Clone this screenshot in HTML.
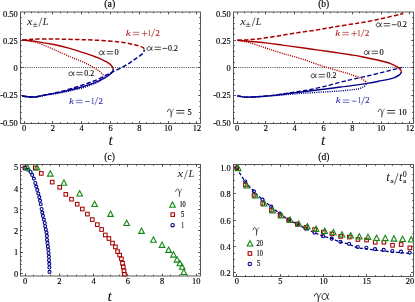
<!DOCTYPE html>
<html><head><meta charset="utf-8"><style>
html,body{margin:0;padding:0;background:#fff;}
svg{display:block;will-change:transform}
text{font-family:"Liberation Serif",serif;fill:#000}
.tk{font-size:8.4px;stroke:#000;stroke-width:0.15px}
.it{font-style:italic}
</style></head><body>
<svg width="415" height="302" viewBox="0 0 415 302">
<rect width="415" height="302" fill="#fff"/>
<rect x="20.50" y="12.00" width="180.00" height="111.50" fill="none" stroke="#484848" stroke-width="0.9"/>
<path d="M24.50,123.50v-2.40 M24.50,12.00v2.40 M31.50,123.50v-1.30 M31.50,12.00v1.30 M38.50,123.50v-1.30 M38.50,12.00v1.30 M45.50,123.50v-1.30 M45.50,12.00v1.30 M52.50,123.50v-2.40 M52.50,12.00v2.40 M60.50,123.50v-1.30 M60.50,12.00v1.30 M67.50,123.50v-1.30 M67.50,12.00v1.30 M74.50,123.50v-1.30 M74.50,12.00v1.30 M81.50,123.50v-2.40 M81.50,12.00v2.40 M88.50,123.50v-1.30 M88.50,12.00v1.30 M96.50,123.50v-1.30 M96.50,12.00v1.30 M103.50,123.50v-1.30 M103.50,12.00v1.30 M110.50,123.50v-2.40 M110.50,12.00v2.40 M117.50,123.50v-1.30 M117.50,12.00v1.30 M124.50,123.50v-1.30 M124.50,12.00v1.30 M132.50,123.50v-1.30 M132.50,12.00v1.30 M139.50,123.50v-2.40 M139.50,12.00v2.40 M146.50,123.50v-1.30 M146.50,12.00v1.30 M153.50,123.50v-1.30 M153.50,12.00v1.30 M160.50,123.50v-1.30 M160.50,12.00v1.30 M168.50,123.50v-2.40 M168.50,12.00v2.40 M175.50,123.50v-1.30 M175.50,12.00v1.30 M182.50,123.50v-1.30 M182.50,12.00v1.30 M189.50,123.50v-1.30 M189.50,12.00v1.30 M196.50,123.50v-2.40 M196.50,12.00v2.40 M20.50,118.50h1.30 M200.50,118.50h-1.30 M20.50,112.50h1.30 M200.50,112.50h-1.30 M20.50,106.50h1.30 M200.50,106.50h-1.30 M20.50,101.50h1.30 M200.50,101.50h-1.30 M20.50,95.50h2.40 M200.50,95.50h-2.40 M20.50,90.50h1.30 M200.50,90.50h-1.30 M20.50,84.50h1.30 M200.50,84.50h-1.30 M20.50,79.50h1.30 M200.50,79.50h-1.30 M20.50,73.50h1.30 M200.50,73.50h-1.30 M20.50,67.50h2.40 M200.50,67.50h-2.40 M20.50,62.50h1.30 M200.50,62.50h-1.30 M20.50,56.50h1.30 M200.50,56.50h-1.30 M20.50,51.50h1.30 M200.50,51.50h-1.30 M20.50,45.50h1.30 M200.50,45.50h-1.30 M20.50,40.50h2.40 M200.50,40.50h-2.40 M20.50,34.50h1.30 M200.50,34.50h-1.30 M20.50,28.50h1.30 M200.50,28.50h-1.30 M20.50,23.50h1.30 M200.50,23.50h-1.30 M20.50,17.50h1.30 M200.50,17.50h-1.30 " stroke="#3a3a3a" stroke-width="0.85" fill="none"/>
<text x="24.02" y="131.10" text-anchor="middle" class="tk">0</text>
<text x="52.84" y="131.10" text-anchor="middle" class="tk">2</text>
<text x="81.65" y="131.10" text-anchor="middle" class="tk">4</text>
<text x="110.47" y="131.10" text-anchor="middle" class="tk">6</text>
<text x="139.28" y="131.10" text-anchor="middle" class="tk">8</text>
<text x="168.10" y="131.10" text-anchor="middle" class="tk">10</text>
<text x="196.92" y="131.10" text-anchor="middle" class="tk">12</text>
<text x="17.60" y="17.15" text-anchor="end" class="tk">0.50</text>
<text x="17.60" y="43.72" text-anchor="end" class="tk">0.25</text>
<text x="17.60" y="71.10" text-anchor="end" class="tk">0</text>
<text x="17.60" y="98.47" text-anchor="end" class="tk">-0.25</text>
<text x="17.60" y="125.85" text-anchor="end" class="tk">-0.50</text>
<rect x="233.50" y="12.00" width="180.00" height="111.50" fill="none" stroke="#484848" stroke-width="0.9"/>
<path d="M237.50,123.50v-2.40 M237.50,12.00v2.40 M244.50,123.50v-1.30 M244.50,12.00v1.30 M251.50,123.50v-1.30 M251.50,12.00v1.30 M258.50,123.50v-1.30 M258.50,12.00v1.30 M265.50,123.50v-2.40 M265.50,12.00v2.40 M273.50,123.50v-1.30 M273.50,12.00v1.30 M280.50,123.50v-1.30 M280.50,12.00v1.30 M287.50,123.50v-1.30 M287.50,12.00v1.30 M294.50,123.50v-2.40 M294.50,12.00v2.40 M301.50,123.50v-1.30 M301.50,12.00v1.30 M309.50,123.50v-1.30 M309.50,12.00v1.30 M316.50,123.50v-1.30 M316.50,12.00v1.30 M323.50,123.50v-2.40 M323.50,12.00v2.40 M330.50,123.50v-1.30 M330.50,12.00v1.30 M337.50,123.50v-1.30 M337.50,12.00v1.30 M345.50,123.50v-1.30 M345.50,12.00v1.30 M352.50,123.50v-2.40 M352.50,12.00v2.40 M359.50,123.50v-1.30 M359.50,12.00v1.30 M366.50,123.50v-1.30 M366.50,12.00v1.30 M373.50,123.50v-1.30 M373.50,12.00v1.30 M381.50,123.50v-2.40 M381.50,12.00v2.40 M388.50,123.50v-1.30 M388.50,12.00v1.30 M395.50,123.50v-1.30 M395.50,12.00v1.30 M402.50,123.50v-1.30 M402.50,12.00v1.30 M409.50,123.50v-2.40 M409.50,12.00v2.40 M233.50,118.50h1.30 M413.50,118.50h-1.30 M233.50,112.50h1.30 M413.50,112.50h-1.30 M233.50,106.50h1.30 M413.50,106.50h-1.30 M233.50,101.50h1.30 M413.50,101.50h-1.30 M233.50,95.50h2.40 M413.50,95.50h-2.40 M233.50,90.50h1.30 M413.50,90.50h-1.30 M233.50,84.50h1.30 M413.50,84.50h-1.30 M233.50,79.50h1.30 M413.50,79.50h-1.30 M233.50,73.50h1.30 M413.50,73.50h-1.30 M233.50,67.50h2.40 M413.50,67.50h-2.40 M233.50,62.50h1.30 M413.50,62.50h-1.30 M233.50,56.50h1.30 M413.50,56.50h-1.30 M233.50,51.50h1.30 M413.50,51.50h-1.30 M233.50,45.50h1.30 M413.50,45.50h-1.30 M233.50,40.50h2.40 M413.50,40.50h-2.40 M233.50,34.50h1.30 M413.50,34.50h-1.30 M233.50,28.50h1.30 M413.50,28.50h-1.30 M233.50,23.50h1.30 M413.50,23.50h-1.30 M233.50,17.50h1.30 M413.50,17.50h-1.30 " stroke="#3a3a3a" stroke-width="0.85" fill="none"/>
<text x="237.02" y="131.10" text-anchor="middle" class="tk">0</text>
<text x="265.84" y="131.10" text-anchor="middle" class="tk">2</text>
<text x="294.65" y="131.10" text-anchor="middle" class="tk">4</text>
<text x="323.47" y="131.10" text-anchor="middle" class="tk">6</text>
<text x="352.28" y="131.10" text-anchor="middle" class="tk">8</text>
<text x="381.10" y="131.10" text-anchor="middle" class="tk">10</text>
<text x="409.92" y="131.10" text-anchor="middle" class="tk">12</text>
<text x="230.60" y="17.15" text-anchor="end" class="tk">0.50</text>
<text x="230.60" y="43.72" text-anchor="end" class="tk">0.25</text>
<text x="230.60" y="71.10" text-anchor="end" class="tk">0</text>
<text x="230.60" y="98.47" text-anchor="end" class="tk">-0.25</text>
<text x="230.60" y="125.85" text-anchor="end" class="tk">-0.50</text>
<path d="M21,67.5H200 M234,67.5H413" stroke="#222" stroke-width="0.9" stroke-dasharray="0.9,1.24" fill="none"/>
<path d="M22.30,96.00 C23.67,96.18 27.88,96.98 30.50,97.10 C33.12,97.22 35.58,96.98 38.00,96.70 C40.42,96.42 41.00,96.08 45.00,95.40 C49.00,94.72 56.17,93.73 62.00,92.60 C67.83,91.47 75.60,89.72 80.00,88.60 C84.40,87.48 85.73,86.83 88.40,85.90 C91.07,84.97 93.97,83.93 96.00,83.00 C98.03,82.07 99.23,81.42 100.60,80.30 C101.97,79.18 103.60,76.97 104.20,76.30" stroke="#00008b" stroke-width="1.35" fill="none" stroke-dasharray="1.1,1.1"/>
<path d="M22.30,96.00 C23.67,96.15 27.88,96.83 30.50,96.90 C33.12,96.97 35.58,96.73 38.00,96.40 C40.42,96.07 41.00,95.75 45.00,94.90 C49.00,94.05 56.17,92.82 62.00,91.30 C67.83,89.78 75.60,87.18 80.00,85.80 C84.40,84.42 85.58,84.00 88.40,83.00 C91.22,82.00 93.87,81.13 96.90,79.80 C99.93,78.47 103.88,76.35 106.60,75.00 C109.32,73.65 110.33,73.12 113.20,71.70 C116.07,70.28 120.48,68.37 123.80,66.50 C127.12,64.63 130.02,62.60 133.10,60.50 C136.18,58.40 140.42,55.72 142.30,53.90 C144.18,52.08 144.05,50.32 144.40,49.60" stroke="#00008b" stroke-width="1.50" fill="none" stroke-dasharray="4.4,2.2"/>
<path d="M22.30,96.00 C23.67,96.17 27.88,96.92 30.50,97.00 C33.12,97.08 35.58,96.82 38.00,96.50 C40.42,96.18 41.00,95.87 45.00,95.10 C49.00,94.33 56.33,93.12 62.00,91.90 C67.67,90.68 74.60,88.97 79.00,87.80 C83.40,86.63 85.40,85.92 88.40,84.90 C91.40,83.88 94.18,82.92 97.00,81.70 C99.82,80.48 103.25,78.72 105.30,77.60 C107.35,76.48 108.08,75.98 109.30,75.00 C110.52,74.02 111.95,72.77 112.60,71.70 C113.25,70.63 113.10,69.12 113.20,68.60" stroke="#00008b" stroke-width="1.40" fill="none"/>
<path d="M22.30,40.00 C24.73,40.43 31.67,41.03 36.90,42.60 C42.13,44.17 48.08,47.00 53.70,49.40 C59.32,51.80 66.22,55.13 70.60,57.00 C74.98,58.87 77.03,59.33 80.00,60.60 C82.97,61.87 85.58,63.10 88.40,64.60 C91.22,66.10 94.62,68.07 96.90,69.60 C99.18,71.13 100.88,72.68 102.10,73.80 C103.32,74.92 103.85,75.88 104.20,76.30" stroke="#a80000" stroke-width="1.35" fill="none" stroke-dasharray="1.1,1.1"/>
<path d="M22.30,40.00 C23.58,39.90 27.57,39.55 30.00,39.40 C32.43,39.25 33.57,39.16 36.90,39.10 C40.23,39.04 45.78,39.04 50.00,39.05 C54.22,39.06 57.20,39.06 62.20,39.15 C67.20,39.24 73.70,39.39 80.00,39.60 C86.30,39.81 93.37,40.00 100.00,40.40 C106.63,40.80 114.28,41.33 119.80,42.00 C125.32,42.67 129.57,43.63 133.10,44.40 C136.63,45.17 139.25,46.00 141.00,46.60 C142.75,47.20 143.03,47.50 143.60,48.00 C144.17,48.50 144.27,49.33 144.40,49.60" stroke="#a80000" stroke-width="1.50" fill="none" stroke-dasharray="4.4,2.2"/>
<path d="M22.30,40.00 C24.73,40.27 31.67,40.85 36.90,41.60 C42.13,42.35 48.08,43.33 53.70,44.50 C59.32,45.67 66.22,47.42 70.60,48.60 C74.98,49.78 76.77,50.57 80.00,51.60 C83.23,52.63 87.18,53.83 90.00,54.80 C92.82,55.77 95.23,56.77 96.90,57.40 C98.57,58.03 98.38,57.85 100.00,58.60 C101.62,59.35 104.73,60.80 106.60,61.90 C108.47,63.00 110.10,64.08 111.20,65.20 C112.30,66.32 112.87,68.03 113.20,68.60" stroke="#a80000" stroke-width="1.40" fill="none"/>
<path d="M237.40,95.90 C238.75,96.10 242.18,96.93 245.50,97.10 C248.82,97.27 252.52,97.13 257.30,96.90 C262.08,96.67 268.58,96.15 274.20,95.70 C279.82,95.25 285.55,94.65 291.00,94.20 C296.45,93.75 301.45,93.37 306.90,93.00 C312.35,92.63 318.08,92.35 323.70,92.00 C329.32,91.65 335.65,91.30 340.60,90.90 C345.55,90.50 350.17,90.02 353.40,89.60 C356.63,89.18 358.20,88.93 360.00,88.40 C361.80,87.87 363.10,87.18 364.20,86.40 C365.30,85.62 366.20,84.15 366.60,83.70" stroke="#00008b" stroke-width="1.35" fill="none" stroke-dasharray="1.1,1.1"/>
<path d="M237.40,95.90 C238.75,96.10 242.18,96.97 245.50,97.10 C248.82,97.23 252.52,97.02 257.30,96.70 C262.08,96.38 268.58,95.88 274.20,95.20 C279.82,94.52 285.55,93.43 291.00,92.60 C296.45,91.77 301.45,91.20 306.90,90.20 C312.35,89.20 318.08,87.95 323.70,86.60 C329.32,85.25 335.65,83.37 340.60,82.10 C345.55,80.83 348.45,80.13 353.40,79.00 C358.35,77.87 364.67,76.62 370.30,75.30 C375.93,73.98 381.87,72.42 387.20,71.10 C392.53,69.78 399.78,68.02 402.30,67.40" stroke="#00008b" stroke-width="1.30" fill="none" stroke-dasharray="4.4,2.2"/>
<path d="M237.40,95.90 C238.75,96.10 242.18,96.95 245.50,97.10 C248.82,97.25 252.52,97.08 257.30,96.80 C262.08,96.52 268.58,96.00 274.20,95.40 C279.82,94.80 285.55,93.90 291.00,93.20 C296.45,92.50 301.45,91.87 306.90,91.20 C312.35,90.53 318.08,89.90 323.70,89.20 C329.32,88.50 335.65,87.63 340.60,87.00 C345.55,86.37 349.02,86.00 353.40,85.40 C357.78,84.80 362.68,84.10 366.90,83.40 C371.12,82.70 374.20,82.13 378.70,81.20 C383.20,80.27 390.38,78.92 393.90,77.80 C397.42,76.68 398.53,75.50 399.80,74.50 C401.07,73.50 401.22,72.25 401.50,71.80" stroke="#00008b" stroke-width="1.40" fill="none"/>
<path d="M237.40,40.20 C239.32,40.58 244.18,41.20 248.90,42.50 C253.62,43.80 260.08,46.18 265.70,48.00 C271.32,49.82 276.55,51.57 282.60,53.40 C288.65,55.23 295.15,56.82 302.00,59.00 C308.85,61.18 317.27,64.43 323.70,66.50 C330.13,68.57 336.22,70.12 340.60,71.40 C344.98,72.68 346.77,73.12 350.00,74.20 C353.23,75.28 357.53,76.77 360.00,77.90 C362.47,79.03 363.70,80.03 364.80,81.00 C365.90,81.97 366.30,83.25 366.60,83.70" stroke="#a80000" stroke-width="1.35" fill="none" stroke-dasharray="1.1,1.1"/>
<path d="M237.40,40.20 C239.32,40.10 244.80,39.90 248.90,39.60 C253.00,39.30 257.40,38.97 262.00,38.40 C266.60,37.83 271.68,36.97 276.50,36.20 C281.32,35.43 286.08,34.57 290.90,33.80 C295.72,33.03 300.58,32.32 305.40,31.60 C310.22,30.88 315.08,30.27 319.80,29.50 C324.52,28.73 328.57,27.87 333.70,27.00 C338.83,26.13 345.90,25.03 350.60,24.30 C355.30,23.57 357.22,23.43 361.90,22.60 C366.58,21.77 373.08,20.50 378.70,19.30 C384.32,18.10 391.52,16.38 395.60,15.40 C399.68,14.42 401.93,13.73 403.20,13.40" stroke="#a80000" stroke-width="1.50" fill="none" stroke-dasharray="4.4,2.2"/>
<path d="M237.40,40.20 C242.12,40.65 258.17,42.08 265.70,42.90 C273.23,43.72 276.55,44.28 282.60,45.10 C288.65,45.92 296.28,47.00 302.00,47.80 C307.72,48.60 311.62,49.15 316.90,49.90 C322.18,50.65 328.08,51.48 333.70,52.30 C339.32,53.12 345.90,54.07 350.60,54.80 C355.30,55.53 357.22,55.78 361.90,56.70 C366.58,57.62 373.93,59.15 378.70,60.30 C383.47,61.45 387.40,62.50 390.50,63.60 C393.60,64.70 395.62,65.85 397.30,66.90 C398.98,67.95 399.90,69.08 400.60,69.90 C401.30,70.72 401.35,71.48 401.50,71.80" stroke="#a80000" stroke-width="1.40" fill="none"/>
<text x="104.30" y="7.10" font-size="9.60" textLength="11.00" lengthAdjust="spacingAndGlyphs" style="fill:#000;stroke:#000;stroke-width:0.15px">(a)</text>
<text x="318.20" y="7.10" font-size="9.60" textLength="11.00" lengthAdjust="spacingAndGlyphs" style="fill:#000;stroke:#000;stroke-width:0.15px">(b)</text>
<text x="104.30" y="159.80" font-size="9.60" textLength="10.50" lengthAdjust="spacingAndGlyphs" style="fill:#000;stroke:#000;stroke-width:0.15px">(c)</text>
<text x="318.30" y="159.80" font-size="9.60" textLength="11.00" lengthAdjust="spacingAndGlyphs" style="fill:#000;stroke:#000;stroke-width:0.15px">(d)</text>
<text x="108.60" y="144.50" font-size="15.00" textLength="4.40" lengthAdjust="spacingAndGlyphs" class="it" style="fill:#111;stroke:#111;stroke-width:0.00px">t</text>
<text x="320.90" y="144.60" font-size="15.00" textLength="4.40" lengthAdjust="spacingAndGlyphs" class="it" style="fill:#111;stroke:#111;stroke-width:0.00px">t</text>
<text x="107.40" y="301.40" font-size="15.00" textLength="4.40" lengthAdjust="spacingAndGlyphs" class="it" style="fill:#111;stroke:#111;stroke-width:0.00px">t</text>
<path d="M314.30,296.05 C314.63,294.33 315.49,293.56 316.41,293.56 C317.73,293.56 318.26,295.88 318.39,298.63 L318.06,301.90" stroke="#111" stroke-width="0.90" fill="none" stroke-linecap="round" stroke-linejoin="round"/>
<path d="M318.39,298.80 C318.92,296.91 319.91,294.68 320.77,293.30" stroke="#111" stroke-width="0.54" fill="none" stroke-linecap="round"/>
<path d="M328.51,293.74 C327.95,296.25 326.20,299.60 324.10,299.60 C322.70,299.60 322.00,298.38 322.00,297.04 C322.00,295.02 323.26,293.50 324.80,293.50 C326.55,293.50 327.04,295.94 327.46,298.07 C327.74,299.42 328.30,299.78 329.00,298.99" stroke="#111" stroke-width="0.85" fill="none" stroke-linecap="round" stroke-linejoin="round"/>
<text x="27.10" y="24.70" font-size="10.50" textLength="5.50" lengthAdjust="spacingAndGlyphs" class="it" style="fill:#1a1a1a;stroke:#1a1a1a;stroke-width:0.00px">x</text>
<text x="32.40" y="26.50" font-size="8.20" textLength="5.20" lengthAdjust="spacingAndGlyphs" style="fill:#1a1a1a;stroke:#1a1a1a;stroke-width:0.00px">±</text>
<path d="M41.90,17.60L38.90,26.60" stroke="#1a1a1a" stroke-width="0.60" fill="none"/>
<text x="42.70" y="24.70" font-size="10.00" textLength="5.70" lengthAdjust="spacingAndGlyphs" class="it" style="fill:#1a1a1a;stroke:#1a1a1a;stroke-width:0.00px">L</text>
<text x="240.20" y="24.70" font-size="10.50" textLength="5.50" lengthAdjust="spacingAndGlyphs" class="it" style="fill:#1a1a1a;stroke:#1a1a1a;stroke-width:0.00px">x</text>
<text x="245.50" y="26.50" font-size="8.20" textLength="5.20" lengthAdjust="spacingAndGlyphs" style="fill:#1a1a1a;stroke:#1a1a1a;stroke-width:0.00px">±</text>
<path d="M255.00,17.60L252.00,26.60" stroke="#1a1a1a" stroke-width="0.60" fill="none"/>
<text x="255.80" y="24.70" font-size="10.00" textLength="5.70" lengthAdjust="spacingAndGlyphs" class="it" style="fill:#1a1a1a;stroke:#1a1a1a;stroke-width:0.00px">L</text>
<text x="125.80" y="35.60" font-size="9.00" textLength="5.00" lengthAdjust="spacingAndGlyphs" class="it" style="fill:#b02020;stroke:#b02020;stroke-width:0.05px">k</text>
<path d="M132.80,32.30H139.40 M132.80,34.70H139.40" stroke="#b02020" stroke-width="0.65" fill="none"/>
<path d="M141.80,33.50H147.40 M144.60,30.70V36.30" stroke="#b02020" stroke-width="0.65" fill="none"/>
<text x="147.80" y="35.60" font-size="8.00" textLength="3.40" lengthAdjust="spacingAndGlyphs" style="fill:#b02020;stroke:#b02020;stroke-width:0.10px">1</text>
<path d="M154.80,28.90L151.50,37.10" stroke="#b02020" stroke-width="0.65" fill="none"/>
<text x="155.40" y="35.60" font-size="8.00" textLength="4.30" lengthAdjust="spacingAndGlyphs" style="fill:#b02020;stroke:#b02020;stroke-width:0.10px">2</text>
<path d="M152.12,46.76 C151.69,48.36 150.34,50.50 148.72,50.50 C147.64,50.50 147.10,49.72 147.10,48.86 C147.10,47.58 148.07,46.60 149.26,46.60 C150.61,46.60 150.99,48.16 151.31,49.52 C151.53,50.38 151.96,50.62 152.50,50.11" stroke="#000" stroke-width="0.72" fill="none" stroke-linecap="round" stroke-linejoin="round"/>
<path d="M154.50,47.20H160.90 M154.50,49.60H160.90" stroke="#000" stroke-width="0.65" fill="none"/>
<path d="M162.50,48.40H167.30" stroke="#000" stroke-width="0.70" fill="none"/>
<text x="168.00" y="50.50" font-size="7.60" textLength="9.80" lengthAdjust="spacingAndGlyphs" style="fill:#000;stroke:#000;stroke-width:0.10px">0.2</text>
<path d="M104.22,51.06 C103.79,52.66 102.44,54.80 100.82,54.80 C99.74,54.80 99.20,54.02 99.20,53.16 C99.20,51.88 100.17,50.90 101.36,50.90 C102.71,50.90 103.09,52.46 103.41,53.82 C103.63,54.68 104.06,54.92 104.60,54.41" stroke="#000" stroke-width="0.72" fill="none" stroke-linecap="round" stroke-linejoin="round"/>
<path d="M106.60,51.50H113.00 M106.60,53.90H113.00" stroke="#000" stroke-width="0.65" fill="none"/>
<text x="114.60" y="54.80" font-size="7.60" textLength="4.20" lengthAdjust="spacingAndGlyphs" style="fill:#000;stroke:#000;stroke-width:0.10px">0</text>
<path d="M73.92,71.96 C73.49,73.55 72.14,75.70 70.52,75.70 C69.44,75.70 68.90,74.92 68.90,74.06 C68.90,72.77 69.87,71.80 71.06,71.80 C72.41,71.80 72.79,73.36 73.11,74.72 C73.33,75.58 73.76,75.82 74.30,75.31" stroke="#000" stroke-width="0.72" fill="none" stroke-linecap="round" stroke-linejoin="round"/>
<path d="M76.30,72.40H82.70 M76.30,74.80H82.70" stroke="#000" stroke-width="0.65" fill="none"/>
<text x="84.30" y="75.70" font-size="7.60" textLength="9.80" lengthAdjust="spacingAndGlyphs" style="fill:#000;stroke:#000;stroke-width:0.10px">0.2</text>
<text x="69.00" y="103.60" font-size="9.00" textLength="5.00" lengthAdjust="spacingAndGlyphs" class="it" style="fill:#2a2aa8;stroke:#2a2aa8;stroke-width:0.05px">k</text>
<path d="M76.00,100.30H82.60 M76.00,102.70H82.60" stroke="#2a2aa8" stroke-width="0.65" fill="none"/>
<path d="M85.00,101.50H89.80" stroke="#2a2aa8" stroke-width="0.70" fill="none"/>
<text x="91.00" y="103.60" font-size="8.00" textLength="3.40" lengthAdjust="spacingAndGlyphs" style="fill:#2a2aa8;stroke:#2a2aa8;stroke-width:0.10px">1</text>
<path d="M98.00,96.90L94.70,105.10" stroke="#2a2aa8" stroke-width="0.65" fill="none"/>
<text x="98.60" y="103.60" font-size="8.00" textLength="4.30" lengthAdjust="spacingAndGlyphs" style="fill:#2a2aa8;stroke:#2a2aa8;stroke-width:0.10px">2</text>
<path d="M167.50,111.56 C167.81,109.96 168.60,109.24 169.45,109.24 C170.67,109.24 171.16,111.40 171.28,113.96 L170.98,117.00" stroke="#111" stroke-width="0.75" fill="none" stroke-linecap="round" stroke-linejoin="round"/>
<path d="M171.28,114.12 C171.77,112.36 172.69,110.28 173.48,109.00" stroke="#111" stroke-width="0.45" fill="none" stroke-linecap="round"/>
<path d="M176.30,110.50H184.30 M176.30,113.10H184.30" stroke="#000" stroke-width="0.75" fill="none"/>
<text x="187.50" y="114.60" font-size="8.50" textLength="4.20" lengthAdjust="spacingAndGlyphs" style="fill:#000;stroke:#000;stroke-width:0.15px">5</text>
<text x="335.30" y="35.70" font-size="9.00" textLength="5.00" lengthAdjust="spacingAndGlyphs" class="it" style="fill:#b02020;stroke:#b02020;stroke-width:0.05px">k</text>
<path d="M342.30,32.40H348.90 M342.30,34.80H348.90" stroke="#b02020" stroke-width="0.65" fill="none"/>
<path d="M351.30,33.60H356.90 M354.10,30.80V36.40" stroke="#b02020" stroke-width="0.65" fill="none"/>
<text x="357.30" y="35.70" font-size="8.00" textLength="3.40" lengthAdjust="spacingAndGlyphs" style="fill:#b02020;stroke:#b02020;stroke-width:0.10px">1</text>
<path d="M364.30,29.00L361.00,37.20" stroke="#b02020" stroke-width="0.65" fill="none"/>
<text x="364.90" y="35.70" font-size="8.00" textLength="4.30" lengthAdjust="spacingAndGlyphs" style="fill:#b02020;stroke:#b02020;stroke-width:0.10px">2</text>
<path d="M381.32,23.06 C380.89,24.66 379.54,26.80 377.92,26.80 C376.84,26.80 376.30,26.02 376.30,25.16 C376.30,23.88 377.27,22.90 378.46,22.90 C379.81,22.90 380.19,24.46 380.51,25.83 C380.73,26.68 381.16,26.92 381.70,26.41" stroke="#000" stroke-width="0.72" fill="none" stroke-linecap="round" stroke-linejoin="round"/>
<path d="M383.70,23.50H390.10 M383.70,25.90H390.10" stroke="#000" stroke-width="0.65" fill="none"/>
<path d="M391.70,24.70H396.50" stroke="#000" stroke-width="0.70" fill="none"/>
<text x="397.20" y="26.80" font-size="7.60" textLength="9.80" lengthAdjust="spacingAndGlyphs" style="fill:#000;stroke:#000;stroke-width:0.10px">0.2</text>
<path d="M369.22,50.76 C368.79,52.36 367.44,54.50 365.82,54.50 C364.74,54.50 364.20,53.72 364.20,52.86 C364.20,51.58 365.17,50.60 366.36,50.60 C367.71,50.60 368.09,52.16 368.41,53.52 C368.63,54.38 369.06,54.62 369.60,54.11" stroke="#000" stroke-width="0.72" fill="none" stroke-linecap="round" stroke-linejoin="round"/>
<path d="M371.60,51.20H378.00 M371.60,53.60H378.00" stroke="#000" stroke-width="0.65" fill="none"/>
<text x="379.60" y="54.50" font-size="7.60" textLength="4.20" lengthAdjust="spacingAndGlyphs" style="fill:#000;stroke:#000;stroke-width:0.10px">0</text>
<path d="M316.12,74.06 C315.69,75.65 314.34,77.80 312.72,77.80 C311.64,77.80 311.10,77.02 311.10,76.16 C311.10,74.87 312.07,73.90 313.26,73.90 C314.61,73.90 314.99,75.46 315.31,76.82 C315.53,77.68 315.96,77.92 316.50,77.41" stroke="#000" stroke-width="0.72" fill="none" stroke-linecap="round" stroke-linejoin="round"/>
<path d="M318.50,74.50H324.90 M318.50,76.90H324.90" stroke="#000" stroke-width="0.65" fill="none"/>
<text x="326.50" y="77.80" font-size="7.60" textLength="9.80" lengthAdjust="spacingAndGlyphs" style="fill:#000;stroke:#000;stroke-width:0.10px">0.2</text>
<text x="335.70" y="103.30" font-size="9.00" textLength="5.00" lengthAdjust="spacingAndGlyphs" class="it" style="fill:#2a2aa8;stroke:#2a2aa8;stroke-width:0.05px">k</text>
<path d="M342.70,100.00H349.30 M342.70,102.40H349.30" stroke="#2a2aa8" stroke-width="0.65" fill="none"/>
<path d="M351.70,101.20H356.50" stroke="#2a2aa8" stroke-width="0.70" fill="none"/>
<text x="357.70" y="103.30" font-size="8.00" textLength="3.40" lengthAdjust="spacingAndGlyphs" style="fill:#2a2aa8;stroke:#2a2aa8;stroke-width:0.10px">1</text>
<path d="M364.70,96.60L361.40,104.80" stroke="#2a2aa8" stroke-width="0.65" fill="none"/>
<text x="365.30" y="103.30" font-size="8.00" textLength="4.30" lengthAdjust="spacingAndGlyphs" style="fill:#2a2aa8;stroke:#2a2aa8;stroke-width:0.10px">2</text>
<path d="M378.30,111.56 C378.61,109.96 379.40,109.24 380.25,109.24 C381.47,109.24 381.96,111.40 382.08,113.96 L381.78,117.00" stroke="#111" stroke-width="0.75" fill="none" stroke-linecap="round" stroke-linejoin="round"/>
<path d="M382.08,114.12 C382.57,112.36 383.49,110.28 384.28,109.00" stroke="#111" stroke-width="0.45" fill="none" stroke-linecap="round"/>
<path d="M387.10,110.50H395.10 M387.10,113.10H395.10" stroke="#000" stroke-width="0.75" fill="none"/>
<text x="398.30" y="114.60" font-size="8.50" textLength="8.20" lengthAdjust="spacingAndGlyphs" style="fill:#000;stroke:#000;stroke-width:0.15px">10</text>
<rect x="20.50" y="164.50" width="180.00" height="111.50" fill="none" stroke="#484848" stroke-width="0.9"/>
<path d="M25.50,276.00v-2.40 M25.50,164.50v2.40 M33.50,276.00v-1.30 M33.50,164.50v1.30 M42.50,276.00v-1.30 M42.50,164.50v1.30 M50.50,276.00v-1.30 M50.50,164.50v1.30 M59.50,276.00v-2.40 M59.50,164.50v2.40 M67.50,276.00v-1.30 M67.50,164.50v1.30 M76.50,276.00v-1.30 M76.50,164.50v1.30 M85.50,276.00v-1.30 M85.50,164.50v1.30 M93.50,276.00v-2.40 M93.50,164.50v2.40 M102.50,276.00v-1.30 M102.50,164.50v1.30 M110.50,276.00v-1.30 M110.50,164.50v1.30 M119.50,276.00v-1.30 M119.50,164.50v1.30 M127.50,276.00v-2.40 M127.50,164.50v2.40 M136.50,276.00v-1.30 M136.50,164.50v1.30 M144.50,276.00v-1.30 M144.50,164.50v1.30 M153.50,276.00v-1.30 M153.50,164.50v1.30 M162.50,276.00v-2.40 M162.50,164.50v2.40 M170.50,276.00v-1.30 M170.50,164.50v1.30 M179.50,276.00v-1.30 M179.50,164.50v1.30 M187.50,276.00v-1.30 M187.50,164.50v1.30 M196.50,276.00v-2.40 M196.50,164.50v2.40 M20.50,273.50h2.40 M200.50,273.50h-2.40 M20.50,269.50h1.30 M200.50,269.50h-1.30 M20.50,264.50h1.30 M200.50,264.50h-1.30 M20.50,260.50h1.30 M200.50,260.50h-1.30 M20.50,256.50h1.30 M200.50,256.50h-1.30 M20.50,252.50h2.40 M200.50,252.50h-2.40 M20.50,247.50h1.30 M200.50,247.50h-1.30 M20.50,243.50h1.30 M200.50,243.50h-1.30 M20.50,239.50h1.30 M200.50,239.50h-1.30 M20.50,235.50h1.30 M200.50,235.50h-1.30 M20.50,230.50h2.40 M200.50,230.50h-2.40 M20.50,226.50h1.30 M200.50,226.50h-1.30 M20.50,222.50h1.30 M200.50,222.50h-1.30 M20.50,218.50h1.30 M200.50,218.50h-1.30 M20.50,213.50h1.30 M200.50,213.50h-1.30 M20.50,209.50h2.40 M200.50,209.50h-2.40 M20.50,205.50h1.30 M200.50,205.50h-1.30 M20.50,201.50h1.30 M200.50,201.50h-1.30 M20.50,196.50h1.30 M200.50,196.50h-1.30 M20.50,192.50h1.30 M200.50,192.50h-1.30 M20.50,188.50h2.40 M200.50,188.50h-2.40 M20.50,184.50h1.30 M200.50,184.50h-1.30 M20.50,179.50h1.30 M200.50,179.50h-1.30 M20.50,175.50h1.30 M200.50,175.50h-1.30 M20.50,171.50h1.30 M200.50,171.50h-1.30 M20.50,167.50h2.40 M200.50,167.50h-2.40 " stroke="#3a3a3a" stroke-width="0.85" fill="none"/>
<text x="25.10" y="283.60" text-anchor="middle" class="tk">0</text>
<text x="59.34" y="283.60" text-anchor="middle" class="tk">2</text>
<text x="93.58" y="283.60" text-anchor="middle" class="tk">4</text>
<text x="127.82" y="283.60" text-anchor="middle" class="tk">6</text>
<text x="162.06" y="283.60" text-anchor="middle" class="tk">8</text>
<text x="196.30" y="283.60" text-anchor="middle" class="tk">10</text>
<text x="18.20" y="276.65" text-anchor="end" class="tk">0</text>
<text x="18.20" y="255.41" text-anchor="end" class="tk">1</text>
<text x="18.20" y="234.17" text-anchor="end" class="tk">2</text>
<text x="18.20" y="212.93" text-anchor="end" class="tk">3</text>
<text x="18.20" y="191.69" text-anchor="end" class="tk">4</text>
<text x="18.20" y="170.45" text-anchor="end" class="tk">5</text>
<clipPath id="cc"><rect x="20.3" y="164.4" width="180.2" height="112.4"/></clipPath><g clip-path="url(#cc)">
<rect x="23.10" y="166.10" width="3.60" height="3.60" fill="none" stroke="#a80000" stroke-width="1.05"/>
<rect x="33.50" y="166.20" width="3.60" height="3.60" fill="none" stroke="#a80000" stroke-width="1.05"/>
<rect x="39.50" y="171.60" width="3.60" height="3.60" fill="none" stroke="#a80000" stroke-width="1.05"/>
<rect x="50.40" y="180.30" width="3.60" height="3.60" fill="none" stroke="#a80000" stroke-width="1.05"/>
<rect x="57.90" y="185.50" width="3.60" height="3.60" fill="none" stroke="#a80000" stroke-width="1.05"/>
<rect x="64.00" y="192.60" width="3.60" height="3.60" fill="none" stroke="#a80000" stroke-width="1.05"/>
<rect x="69.70" y="197.40" width="3.60" height="3.60" fill="none" stroke="#a80000" stroke-width="1.05"/>
<rect x="75.40" y="202.40" width="3.60" height="3.60" fill="none" stroke="#a80000" stroke-width="1.05"/>
<rect x="80.50" y="207.20" width="3.60" height="3.60" fill="none" stroke="#a80000" stroke-width="1.05"/>
<rect x="85.60" y="212.30" width="3.60" height="3.60" fill="none" stroke="#a80000" stroke-width="1.05"/>
<rect x="90.50" y="217.80" width="3.60" height="3.60" fill="none" stroke="#a80000" stroke-width="1.05"/>
<rect x="95.50" y="222.80" width="3.60" height="3.60" fill="none" stroke="#a80000" stroke-width="1.05"/>
<rect x="99.80" y="227.70" width="3.60" height="3.60" fill="none" stroke="#a80000" stroke-width="1.05"/>
<rect x="103.50" y="233.20" width="3.60" height="3.60" fill="none" stroke="#a80000" stroke-width="1.05"/>
<rect x="107.10" y="236.70" width="3.60" height="3.60" fill="none" stroke="#a80000" stroke-width="1.05"/>
<rect x="110.70" y="241.30" width="3.60" height="3.60" fill="none" stroke="#a80000" stroke-width="1.05"/>
<rect x="113.60" y="245.10" width="3.60" height="3.60" fill="none" stroke="#a80000" stroke-width="1.05"/>
<rect x="115.80" y="249.80" width="3.60" height="3.60" fill="none" stroke="#a80000" stroke-width="1.05"/>
<rect x="117.90" y="253.30" width="3.60" height="3.60" fill="none" stroke="#a80000" stroke-width="1.05"/>
<rect x="119.60" y="257.00" width="3.60" height="3.60" fill="none" stroke="#a80000" stroke-width="1.05"/>
<rect x="120.70" y="261.50" width="3.60" height="3.60" fill="none" stroke="#a80000" stroke-width="1.05"/>
<rect x="121.50" y="265.10" width="3.60" height="3.60" fill="none" stroke="#a80000" stroke-width="1.05"/>
<rect x="122.20" y="269.10" width="3.60" height="3.60" fill="none" stroke="#a80000" stroke-width="1.05"/>
<rect x="122.60" y="272.50" width="3.60" height="3.60" fill="none" stroke="#a80000" stroke-width="1.05"/>
<circle cx="25.30" cy="168.00" r="1.50" fill="none" stroke="#00008b" stroke-width="1.1"/>
<circle cx="28.20" cy="169.70" r="1.50" fill="none" stroke="#00008b" stroke-width="1.1"/>
<circle cx="30.60" cy="172.00" r="1.50" fill="none" stroke="#00008b" stroke-width="1.1"/>
<circle cx="32.20" cy="174.90" r="1.50" fill="none" stroke="#00008b" stroke-width="1.1"/>
<circle cx="33.90" cy="178.60" r="1.50" fill="none" stroke="#00008b" stroke-width="1.1"/>
<circle cx="35.30" cy="183.00" r="1.50" fill="none" stroke="#00008b" stroke-width="1.1"/>
<circle cx="36.30" cy="186.60" r="1.50" fill="none" stroke="#00008b" stroke-width="1.1"/>
<circle cx="37.30" cy="189.90" r="1.50" fill="none" stroke="#00008b" stroke-width="1.1"/>
<circle cx="38.30" cy="193.50" r="1.50" fill="none" stroke="#00008b" stroke-width="1.1"/>
<circle cx="39.30" cy="197.10" r="1.50" fill="none" stroke="#00008b" stroke-width="1.1"/>
<circle cx="40.00" cy="200.60" r="1.50" fill="none" stroke="#00008b" stroke-width="1.1"/>
<circle cx="40.70" cy="204.20" r="1.50" fill="none" stroke="#00008b" stroke-width="1.1"/>
<circle cx="41.60" cy="209.00" r="1.50" fill="none" stroke="#00008b" stroke-width="1.1"/>
<circle cx="42.30" cy="212.60" r="1.50" fill="none" stroke="#00008b" stroke-width="1.1"/>
<circle cx="42.90" cy="215.90" r="1.50" fill="none" stroke="#00008b" stroke-width="1.1"/>
<circle cx="43.90" cy="219.60" r="1.50" fill="none" stroke="#00008b" stroke-width="1.1"/>
<circle cx="44.70" cy="223.00" r="1.50" fill="none" stroke="#00008b" stroke-width="1.1"/>
<circle cx="45.20" cy="226.30" r="1.50" fill="none" stroke="#00008b" stroke-width="1.1"/>
<circle cx="45.80" cy="229.50" r="1.50" fill="none" stroke="#00008b" stroke-width="1.1"/>
<circle cx="46.50" cy="232.50" r="1.50" fill="none" stroke="#00008b" stroke-width="1.1"/>
<circle cx="46.90" cy="235.90" r="1.50" fill="none" stroke="#00008b" stroke-width="1.1"/>
<circle cx="47.00" cy="239.70" r="1.50" fill="none" stroke="#00008b" stroke-width="1.1"/>
<circle cx="47.50" cy="242.90" r="1.50" fill="none" stroke="#00008b" stroke-width="1.1"/>
<circle cx="47.90" cy="246.40" r="1.50" fill="none" stroke="#00008b" stroke-width="1.1"/>
<circle cx="48.30" cy="249.70" r="1.50" fill="none" stroke="#00008b" stroke-width="1.1"/>
<circle cx="48.60" cy="253.30" r="1.50" fill="none" stroke="#00008b" stroke-width="1.1"/>
<circle cx="48.90" cy="256.80" r="1.50" fill="none" stroke="#00008b" stroke-width="1.1"/>
<circle cx="49.00" cy="260.30" r="1.50" fill="none" stroke="#00008b" stroke-width="1.1"/>
<circle cx="49.30" cy="263.90" r="1.50" fill="none" stroke="#00008b" stroke-width="1.1"/>
<circle cx="49.40" cy="267.50" r="1.50" fill="none" stroke="#00008b" stroke-width="1.1"/>
<circle cx="49.50" cy="271.90" r="1.50" fill="none" stroke="#00008b" stroke-width="1.1"/>
<path d="M27.50,164.56L30.30,169.88L24.70,169.88Z" fill="none" stroke="#118811" stroke-width="1.1"/>
<path d="M37.00,164.56L39.80,169.88L34.20,169.88Z" fill="none" stroke="#118811" stroke-width="1.1"/>
<path d="M50.30,170.76L53.10,176.08L47.50,176.08Z" fill="none" stroke="#118811" stroke-width="1.1"/>
<path d="M63.90,179.86L66.70,185.18L61.10,185.18Z" fill="none" stroke="#118811" stroke-width="1.1"/>
<path d="M79.70,190.66L82.50,195.98L76.90,195.98Z" fill="none" stroke="#118811" stroke-width="1.1"/>
<path d="M94.60,201.16L97.40,206.48L91.80,206.48Z" fill="none" stroke="#118811" stroke-width="1.1"/>
<path d="M110.50,211.06L113.30,216.38L107.70,216.38Z" fill="none" stroke="#118811" stroke-width="1.1"/>
<path d="M126.70,220.16L129.50,225.48L123.90,225.48Z" fill="none" stroke="#118811" stroke-width="1.1"/>
<path d="M141.50,228.06L144.30,233.38L138.70,233.38Z" fill="none" stroke="#118811" stroke-width="1.1"/>
<path d="M153.40,236.86L156.20,242.18L150.60,242.18Z" fill="none" stroke="#118811" stroke-width="1.1"/>
<path d="M162.00,242.06L164.80,247.38L159.20,247.38Z" fill="none" stroke="#118811" stroke-width="1.1"/>
<path d="M168.60,247.06L171.40,252.38L165.80,252.38Z" fill="none" stroke="#118811" stroke-width="1.1"/>
<path d="M173.50,251.76L176.30,257.08L170.70,257.08Z" fill="none" stroke="#118811" stroke-width="1.1"/>
<path d="M177.00,256.76L179.80,262.08L174.20,262.08Z" fill="none" stroke="#118811" stroke-width="1.1"/>
<path d="M179.90,260.46L182.70,265.78L177.10,265.78Z" fill="none" stroke="#118811" stroke-width="1.1"/>
<path d="M182.20,263.96L185.00,269.28L179.40,269.28Z" fill="none" stroke="#118811" stroke-width="1.1"/>
<path d="M183.80,269.16L186.60,274.48L181.00,274.48Z" fill="none" stroke="#118811" stroke-width="1.1"/>
</g>
<text x="177.40" y="177.40" font-size="10.50" textLength="5.60" lengthAdjust="spacingAndGlyphs" class="it" style="fill:#1a1a1a;stroke:#1a1a1a;stroke-width:0.00px">x</text>
<path d="M187.40,170.40L184.30,179.40" stroke="#1a1a1a" stroke-width="0.60" fill="none"/>
<text x="188.60" y="177.40" font-size="10.00" textLength="6.00" lengthAdjust="spacingAndGlyphs" class="it" style="fill:#1a1a1a;stroke:#1a1a1a;stroke-width:0.00px">L</text>
<path d="M175.70,191.33 C176.00,189.81 176.80,189.13 177.65,189.13 C178.87,189.13 179.36,191.18 179.48,193.61 L179.18,196.50" stroke="#111" stroke-width="0.75" fill="none" stroke-linecap="round" stroke-linejoin="round"/>
<path d="M179.48,193.76 C179.97,192.09 180.88,190.12 181.68,188.90" stroke="#111" stroke-width="0.45" fill="none" stroke-linecap="round"/>
<path d="M172.50,201.96L175.30,207.28L169.70,207.28Z" fill="none" stroke="#118811" stroke-width="1.1"/>
<text x="179.40" y="206.90" font-size="7.60" textLength="6.30" lengthAdjust="spacingAndGlyphs" style="fill:#000;stroke:#000;stroke-width:0.15px">10</text>
<rect x="170.90" y="212.80" width="3.60" height="3.60" fill="none" stroke="#a80000" stroke-width="1.05"/>
<text x="181.10" y="217.10" font-size="7.60" textLength="3.30" lengthAdjust="spacingAndGlyphs" style="fill:#000;stroke:#000;stroke-width:0.15px">5</text>
<circle cx="172.60" cy="225.20" r="1.70" fill="none" stroke="#00008b" stroke-width="1.1"/>
<text x="181.30" y="227.50" font-size="7.60" textLength="2.90" lengthAdjust="spacingAndGlyphs" style="fill:#000;stroke:#000;stroke-width:0.15px">1</text>
<rect x="233.50" y="164.50" width="180.00" height="111.95" fill="none" stroke="#484848" stroke-width="0.9"/>
<path d="M236.50,276.45v-2.40 M236.50,164.50v2.40 M245.50,276.45v-1.30 M245.50,164.50v1.30 M254.50,276.45v-1.30 M254.50,164.50v1.30 M262.50,276.45v-1.30 M262.50,164.50v1.30 M271.50,276.45v-1.30 M271.50,164.50v1.30 M280.50,276.45v-2.40 M280.50,164.50v2.40 M288.50,276.45v-1.30 M288.50,164.50v1.30 M297.50,276.45v-1.30 M297.50,164.50v1.30 M306.50,276.45v-1.30 M306.50,164.50v1.30 M314.50,276.45v-1.30 M314.50,164.50v1.30 M323.50,276.45v-2.40 M323.50,164.50v2.40 M332.50,276.45v-1.30 M332.50,164.50v1.30 M340.50,276.45v-1.30 M340.50,164.50v1.30 M349.50,276.45v-1.30 M349.50,164.50v1.30 M358.50,276.45v-1.30 M358.50,164.50v1.30 M366.50,276.45v-2.40 M366.50,164.50v2.40 M375.50,276.45v-1.30 M375.50,164.50v1.30 M384.50,276.45v-1.30 M384.50,164.50v1.30 M392.50,276.45v-1.30 M392.50,164.50v1.30 M401.50,276.45v-1.30 M401.50,164.50v1.30 M410.50,276.45v-2.40 M410.50,164.50v2.40 M233.50,272.50h2.40 M413.50,272.50h-2.40 M233.50,266.50h1.30 M413.50,266.50h-1.30 M233.50,259.50h1.30 M413.50,259.50h-1.30 M233.50,253.50h1.30 M413.50,253.50h-1.30 M233.50,246.50h2.40 M413.50,246.50h-2.40 M233.50,240.50h1.30 M413.50,240.50h-1.30 M233.50,233.50h1.30 M413.50,233.50h-1.30 M233.50,226.50h1.30 M413.50,226.50h-1.30 M233.50,220.50h2.40 M413.50,220.50h-2.40 M233.50,213.50h1.30 M413.50,213.50h-1.30 M233.50,207.50h1.30 M413.50,207.50h-1.30 M233.50,200.50h1.30 M413.50,200.50h-1.30 M233.50,193.50h2.40 M413.50,193.50h-2.40 M233.50,187.50h1.30 M413.50,187.50h-1.30 M233.50,180.50h1.30 M413.50,180.50h-1.30 M233.50,174.50h1.30 M413.50,174.50h-1.30 M233.50,167.50h2.40 M413.50,167.50h-2.40 " stroke="#3a3a3a" stroke-width="0.85" fill="none"/>
<text x="236.96" y="283.65" text-anchor="middle" class="tk">0</text>
<text x="280.23" y="283.65" text-anchor="middle" class="tk">5</text>
<text x="323.50" y="283.65" text-anchor="middle" class="tk">10</text>
<text x="366.77" y="283.65" text-anchor="middle" class="tk">15</text>
<text x="410.04" y="283.65" text-anchor="middle" class="tk">20</text>
<text x="230.60" y="170.85" text-anchor="end" class="tk">1.0</text>
<text x="230.60" y="197.21" text-anchor="end" class="tk">0.8</text>
<text x="230.60" y="223.57" text-anchor="end" class="tk">0.6</text>
<text x="230.60" y="249.93" text-anchor="end" class="tk">0.4</text>
<text x="230.60" y="276.29" text-anchor="end" class="tk">0.2</text>
<clipPath id="cd"><rect x="233.4" y="164.5" width="180.2" height="111.3"/></clipPath><g clip-path="url(#cd)">
<path d="M236.56,168.03 C238.00,170.28 242.33,177.64 245.21,181.52 C248.10,185.40 250.98,188.29 253.87,191.31 C256.75,194.33 259.64,197.09 262.52,199.65 C265.41,202.21 268.29,204.32 271.18,206.66 C274.06,209.00 276.95,211.53 279.83,213.67 C282.71,215.81 285.60,217.75 288.48,219.49 C291.37,221.24 294.25,222.58 297.14,224.12 C300.02,225.67 302.91,227.34 305.79,228.75 C308.68,230.17 311.56,231.36 314.45,232.59 C317.33,233.83 320.22,235.15 323.10,236.16 C325.98,237.18 328.87,237.70 331.75,238.68 C334.64,239.66 337.52,241.13 340.41,242.05 C343.29,242.98 346.18,243.29 349.06,244.24 C351.95,245.18 354.83,246.97 357.72,247.71 C360.60,248.46 363.49,248.30 366.37,248.71 C369.25,249.11 372.14,249.76 375.02,250.13 C377.91,250.50 380.79,250.59 383.68,250.92 C386.56,251.25 389.45,251.83 392.33,252.11 C395.22,252.40 398.10,252.40 400.99,252.64 C403.87,252.89 408.20,253.41 409.64,253.57" stroke="#00008b" stroke-width="1.3" fill="none" stroke-dasharray="3.2,2"/>
<circle cx="236.56" cy="168.03" r="1.55" fill="none" stroke="#00008b" stroke-width="1.1"/>
<rect x="234.96" y="166.23" width="3.60" height="3.60" fill="none" stroke="#a80000" stroke-width="1.05"/>
<path d="M238.16,165.29L240.96,170.61L235.36,170.61Z" fill="none" stroke="#118811" stroke-width="1.1"/>
<circle cx="245.21" cy="181.52" r="1.55" fill="none" stroke="#00008b" stroke-width="1.1"/>
<rect x="243.61" y="183.16" width="3.60" height="3.60" fill="none" stroke="#a80000" stroke-width="1.05"/>
<path d="M246.81,182.75L249.61,188.07L244.01,188.07Z" fill="none" stroke="#118811" stroke-width="1.1"/>
<circle cx="253.87" cy="191.31" r="1.55" fill="none" stroke="#00008b" stroke-width="1.1"/>
<rect x="252.27" y="193.62" width="3.60" height="3.60" fill="none" stroke="#a80000" stroke-width="1.05"/>
<path d="M255.47,192.67L258.27,197.99L252.67,197.99Z" fill="none" stroke="#118811" stroke-width="1.1"/>
<circle cx="262.52" cy="199.65" r="1.55" fill="none" stroke="#00008b" stroke-width="1.1"/>
<rect x="260.92" y="201.69" width="3.60" height="3.60" fill="none" stroke="#a80000" stroke-width="1.05"/>
<path d="M264.12,200.74L266.92,206.06L261.32,206.06Z" fill="none" stroke="#118811" stroke-width="1.1"/>
<circle cx="271.18" cy="206.66" r="1.55" fill="none" stroke="#00008b" stroke-width="1.1"/>
<rect x="269.58" y="208.57" width="3.60" height="3.60" fill="none" stroke="#a80000" stroke-width="1.05"/>
<path d="M272.78,207.62L275.58,212.94L269.98,212.94Z" fill="none" stroke="#118811" stroke-width="1.1"/>
<circle cx="279.83" cy="213.67" r="1.55" fill="none" stroke="#00008b" stroke-width="1.1"/>
<rect x="278.23" y="213.59" width="3.60" height="3.60" fill="none" stroke="#a80000" stroke-width="1.05"/>
<path d="M281.43,212.65L284.23,217.97L278.63,217.97Z" fill="none" stroke="#118811" stroke-width="1.1"/>
<circle cx="288.48" cy="219.49" r="1.55" fill="none" stroke="#00008b" stroke-width="1.1"/>
<rect x="286.88" y="218.22" width="3.60" height="3.60" fill="none" stroke="#a80000" stroke-width="1.05"/>
<path d="M290.08,217.01L292.88,222.33L287.28,222.33Z" fill="none" stroke="#118811" stroke-width="1.1"/>
<circle cx="297.14" cy="224.12" r="1.55" fill="none" stroke="#00008b" stroke-width="1.1"/>
<rect x="295.54" y="222.32" width="3.60" height="3.60" fill="none" stroke="#a80000" stroke-width="1.05"/>
<path d="M298.74,220.98L301.54,226.30L295.94,226.30Z" fill="none" stroke="#118811" stroke-width="1.1"/>
<circle cx="305.79" cy="228.75" r="1.55" fill="none" stroke="#00008b" stroke-width="1.1"/>
<rect x="304.19" y="225.50" width="3.60" height="3.60" fill="none" stroke="#a80000" stroke-width="1.05"/>
<path d="M307.39,223.63L310.19,228.95L304.59,228.95Z" fill="none" stroke="#118811" stroke-width="1.1"/>
<circle cx="314.45" cy="232.59" r="1.55" fill="none" stroke="#00008b" stroke-width="1.1"/>
<rect x="312.85" y="227.75" width="3.60" height="3.60" fill="none" stroke="#a80000" stroke-width="1.05"/>
<path d="M316.05,226.01L318.85,231.33L313.25,231.33Z" fill="none" stroke="#118811" stroke-width="1.1"/>
<circle cx="323.10" cy="236.16" r="1.55" fill="none" stroke="#00008b" stroke-width="1.1"/>
<rect x="321.50" y="230.26" width="3.60" height="3.60" fill="none" stroke="#a80000" stroke-width="1.05"/>
<path d="M324.70,228.13L327.50,233.45L321.90,233.45Z" fill="none" stroke="#118811" stroke-width="1.1"/>
<circle cx="331.75" cy="238.68" r="1.55" fill="none" stroke="#00008b" stroke-width="1.1"/>
<rect x="330.15" y="232.11" width="3.60" height="3.60" fill="none" stroke="#a80000" stroke-width="1.05"/>
<path d="M333.35,229.45L336.15,234.77L330.55,234.77Z" fill="none" stroke="#118811" stroke-width="1.1"/>
<circle cx="340.41" cy="241.85" r="1.55" fill="none" stroke="#00008b" stroke-width="1.1"/>
<rect x="338.81" y="234.63" width="3.60" height="3.60" fill="none" stroke="#a80000" stroke-width="1.05"/>
<path d="M342.01,231.70L344.81,237.02L339.21,237.02Z" fill="none" stroke="#118811" stroke-width="1.1"/>
<circle cx="349.06" cy="243.84" r="1.55" fill="none" stroke="#00008b" stroke-width="1.1"/>
<rect x="347.46" y="235.29" width="3.60" height="3.60" fill="none" stroke="#a80000" stroke-width="1.05"/>
<path d="M350.66,232.63L353.46,237.95L347.86,237.95Z" fill="none" stroke="#118811" stroke-width="1.1"/>
<circle cx="357.72" cy="247.01" r="1.55" fill="none" stroke="#00008b" stroke-width="1.1"/>
<rect x="356.12" y="237.67" width="3.60" height="3.60" fill="none" stroke="#a80000" stroke-width="1.05"/>
<path d="M359.32,233.68L362.12,239.00L356.52,239.00Z" fill="none" stroke="#118811" stroke-width="1.1"/>
<circle cx="366.37" cy="247.81" r="1.55" fill="none" stroke="#00008b" stroke-width="1.1"/>
<rect x="364.77" y="238.20" width="3.60" height="3.60" fill="none" stroke="#a80000" stroke-width="1.05"/>
<path d="M367.97,234.21L370.77,239.53L365.17,239.53Z" fill="none" stroke="#118811" stroke-width="1.1"/>
<circle cx="375.02" cy="249.13" r="1.55" fill="none" stroke="#00008b" stroke-width="1.1"/>
<rect x="373.42" y="240.45" width="3.60" height="3.60" fill="none" stroke="#a80000" stroke-width="1.05"/>
<path d="M376.62,235.14L379.42,240.46L373.82,240.46Z" fill="none" stroke="#118811" stroke-width="1.1"/>
<circle cx="383.68" cy="249.92" r="1.55" fill="none" stroke="#00008b" stroke-width="1.1"/>
<rect x="382.08" y="240.45" width="3.60" height="3.60" fill="none" stroke="#a80000" stroke-width="1.05"/>
<path d="M385.28,235.27L388.08,240.59L382.48,240.59Z" fill="none" stroke="#118811" stroke-width="1.1"/>
<circle cx="392.33" cy="251.11" r="1.55" fill="none" stroke="#00008b" stroke-width="1.1"/>
<rect x="390.73" y="243.49" width="3.60" height="3.60" fill="none" stroke="#a80000" stroke-width="1.05"/>
<path d="M393.93,235.80L396.73,241.12L391.13,241.12Z" fill="none" stroke="#118811" stroke-width="1.1"/>
<circle cx="400.99" cy="251.64" r="1.55" fill="none" stroke="#00008b" stroke-width="1.1"/>
<rect x="399.39" y="242.70" width="3.60" height="3.60" fill="none" stroke="#a80000" stroke-width="1.05"/>
<path d="M402.59,236.20L405.39,241.52L399.79,241.52Z" fill="none" stroke="#118811" stroke-width="1.1"/>
<circle cx="409.64" cy="252.57" r="1.55" fill="none" stroke="#00008b" stroke-width="1.1"/>
<rect x="408.04" y="246.01" width="3.60" height="3.60" fill="none" stroke="#a80000" stroke-width="1.05"/>
<path d="M411.24,236.73L414.04,242.05L408.44,242.05Z" fill="none" stroke="#118811" stroke-width="1.1"/>
</g>
<path d="M253.00,229.90 C253.29,228.34 254.06,227.63 254.89,227.63 C256.07,227.63 256.54,229.74 256.66,232.24 L256.36,235.20" stroke="#111" stroke-width="0.75" fill="none" stroke-linecap="round" stroke-linejoin="round"/>
<path d="M256.66,232.39 C257.13,230.68 258.01,228.65 258.78,227.40" stroke="#111" stroke-width="0.45" fill="none" stroke-linecap="round"/>
<path d="M250.00,240.66L252.80,245.98L247.20,245.98Z" fill="none" stroke="#118811" stroke-width="1.1"/>
<text x="256.60" y="245.70" font-size="7.60" textLength="6.50" lengthAdjust="spacingAndGlyphs" style="fill:#000;stroke:#000;stroke-width:0.15px">20</text>
<rect x="248.10" y="251.70" width="3.60" height="3.60" fill="none" stroke="#a80000" stroke-width="1.05"/>
<text x="256.60" y="256.00" font-size="7.60" textLength="6.30" lengthAdjust="spacingAndGlyphs" style="fill:#000;stroke:#000;stroke-width:0.15px">10</text>
<circle cx="249.80" cy="264.00" r="1.70" fill="none" stroke="#00008b" stroke-width="1.1"/>
<text x="256.90" y="266.40" font-size="7.60" textLength="3.30" lengthAdjust="spacingAndGlyphs" style="fill:#000;stroke:#000;stroke-width:0.15px">5</text>
<text x="386.30" y="181.20" font-size="12.00" textLength="3.60" lengthAdjust="spacingAndGlyphs" class="it" style="fill:#111;stroke:#111;stroke-width:0.00px">t</text>
<text x="390.20" y="182.60" font-size="6.80" textLength="3.50" lengthAdjust="spacingAndGlyphs" style="fill:#111;stroke:#111;stroke-width:0.05px">a</text>
<path d="M398.00,173.20L394.40,184.50" stroke="#1a1a1a" stroke-width="0.65" fill="none"/>
<text x="399.10" y="181.20" font-size="12.00" textLength="3.40" lengthAdjust="spacingAndGlyphs" class="it" style="fill:#111;stroke:#111;stroke-width:0.00px">t</text>
<text x="402.80" y="177.20" font-size="8.00" textLength="3.90" lengthAdjust="spacingAndGlyphs" style="fill:#111;stroke:#111;stroke-width:0.10px">0</text>
<text x="402.90" y="183.00" font-size="6.80" textLength="3.50" lengthAdjust="spacingAndGlyphs" style="fill:#111;stroke:#111;stroke-width:0.05px">a</text>
</svg></body></html>
